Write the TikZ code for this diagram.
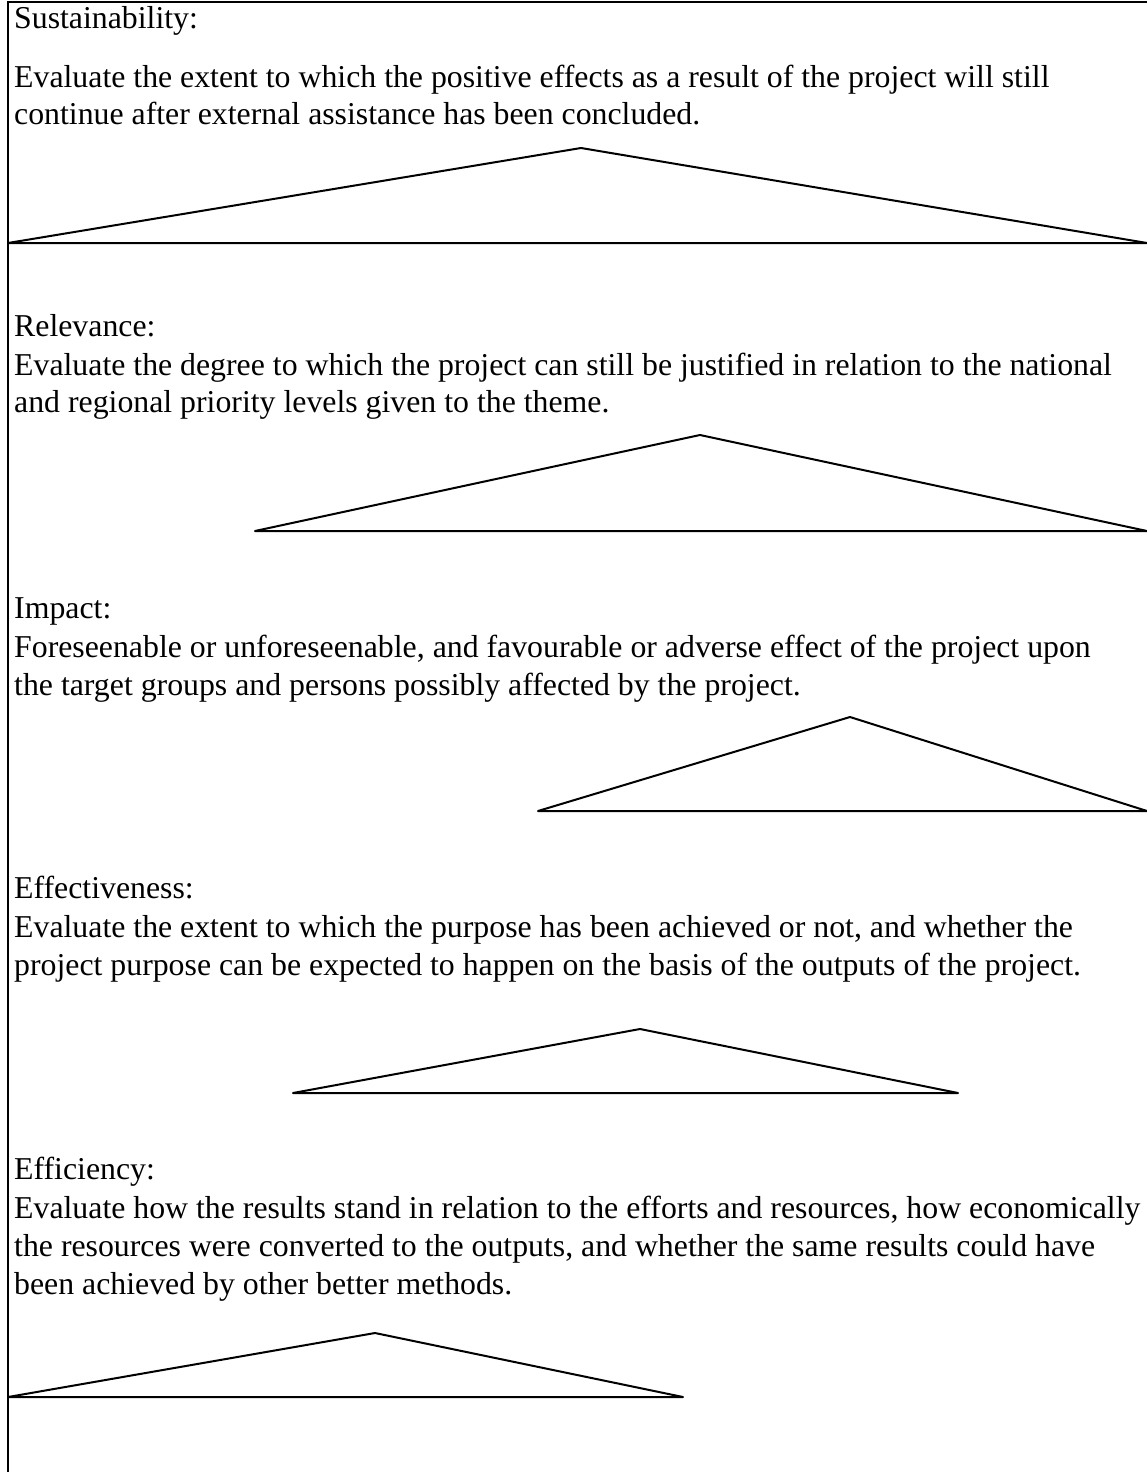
\documentclass[tikz,border=0pt]{standalone}
\usepackage{fontspec}
\setmainfont{Liberation Serif}
\begin{document}
\begin{tikzpicture}[x=1pt,y=-1pt,
  rule/.style={line width=2pt,line join=miter},
  tri/.style={line width=2pt,line join=round},
  txt/.style={anchor=base west,inner sep=0pt,font=\fontsize{31.8}{37}\selectfont}]
\useasboundingbox (0,0) rectangle (1147,1472);
% frame
\draw[rule] (1147,2) -- (8,2) -- (8,1472);
% Sustainability
\node[txt] (s1) at (14,29) {Sustainability:};
\node[txt] (s2) at (14,87) {Evaluate the extent to which the positive effects as a result of the project will still};
\node[txt] (s3) at (14,124) {continue after external assistance has been concluded.};
\draw[tri] (8,243) -- (581,148) -- (1147,243) -- cycle;
% Relevance
\node[txt] (r1) at (14,336) {Relevance:};
\node[txt] (r2) at (14,375) {Evaluate the degree to which the project can still be justified in relation to the national};
\node[txt] (r3) at (14,412) {and regional priority levels given to the theme.};
\draw[tri] (255,531) -- (700,435) -- (1147,531) -- cycle;
% Impact
\node[txt] (i1) at (14,618) {Impact:};
\node[txt] (i2) at (14,657) {Foreseenable or unforeseenable, and favourable or adverse effect of the project upon};
\node[txt] (i3) at (14,695) {the target groups and persons possibly affected by the project.};
\draw[tri] (538,811) -- (850,717) -- (1147,811) -- cycle;
% Effectiveness
\node[txt] (e1) at (14,898) {Effectiveness:};
\node[txt] (e2) at (14,937) {Evaluate the extent to which the purpose has been achieved or not, and whether the};
\node[txt] (e3) at (14,975) {project purpose can be expected to happen on the basis of the outputs of the project.};
\draw[tri] (293,1093) -- (640,1029) -- (958,1093) -- cycle;
% Efficiency
\node[txt] (f1) at (14,1179) {Efficiency:};
\node[txt] (f2) at (14,1218) {Evaluate how the results stand in relation to the efforts and resources, how economically};
\node[txt] (f3) at (14,1256) {the resources were converted to the outputs, and whether the same results could have};
\node[txt] (f4) at (14,1294) {been achieved by other better methods.};
\draw[tri] (8,1397) -- (375,1333) -- (683,1397) -- cycle;
\end{tikzpicture}
\end{document}
